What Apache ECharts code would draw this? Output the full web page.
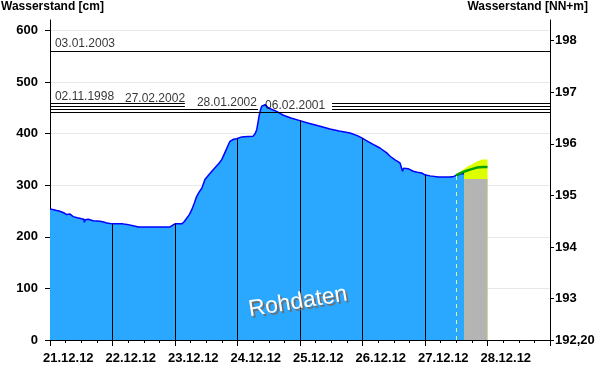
<!DOCTYPE html>
<html><head><meta charset="utf-8">
<script src="https://cdn.jsdelivr.net/npm/echarts@6/dist/echarts.min.js"></script>
<style>html,body{margin:0;padding:0;background:#fff}#c{width:600px;height:384px}</style>
</head><body><div id="c"></div>
<script>
// time axis: hours since 21.12.2012 00:00
const levelHours = [0,1,2.6,3.5,4.5,5.5,6.4,7.7,8.9,10.5,12.2,13.0,13.2,13.5,14.7,16.6,19.2,21.0,21.8,22.4,24,28,29.5,31.5,33.9,40,46.1,47,48,50.6,51.5,52.5,53.5,54.4,55.4,56.3,57.3,58.3,59.5,61,63,65,66,67.5,69.1,70.5,71.7,72,73.6,76,78,78.8,79.4,79.9,80.4,80.9,81.3,82,82.6,83.2,83.8,85.5,87,89.6,92.5,96,98.6,103,107.5,111,115.2,118,119.7,120,122,124.1,126.7,129.3,130.6,132.5,134.4,135.1,135.4,135.8,136.3,137.5,139.5,141,142.7,144,145.9,149.1,153.6,155,156,158.1,159];
const levelCm =    [254,253,251,250,248,246,243,244,239,237,235,234,228,233,234,231,230,228,226.5,224,225,225,224,222,219,219,219,222,225,225,229,236,243,252,265,278,287,294,311,320,332,343,350,367,385,389,390,390.5,393.5,394.5,395,400,408,422,437,447,453,455.5,456,453,450,446,443,435.5,430,425,421,415,409,405,401,396,391.5,391,385,379,372,362.5,356,349,343,340,327,333,335,332,327,325,323.5,320,318,316,316,317,319,322,322];

const forecastHours = [155.9,157,158.7,160,161.3,162.6,163.9,165,166.5,168];
const forecastCm =    [319,322,325.6,328,330,332,334,334.5,335,335];
const forecastUpperHours = [156.3,156.8,158,159.4,160.6,161.9,163,163.9,165,165.8,168];
const forecastUpperCm =    [319,323,328,333,337,340,343,346,348,349.5,349.5];

const greyHours = [159,168];
const greyCm = [312,312];

const nowHour = 156;
const dayLineHours = [24,48,72,96,120,144];

const dayTickLabels = ['21.12.12','22.12.12','23.12.12','24.12.12','25.12.12','26.12.12','27.12.12','28.12.12'];
const leftTickValues = [0,100,200,300,400,500,600];
const rightTickValues = [192.2,193,194,195,196,197,198];
const rightTickLabels = ['192,20','193','194','195','196','197','198'];

// historic flood marks
const floodLevelsCm = [559, 458, 453.5, 447, 440.5];
const floodDates = ['03.01.2003','02.11.1998','27.02.2002','28.01.2002','06.02.2001'];

// layout of flood mark segments (hours) and label anchors (hours, cm)
const floodSegments = [
  [[0,192]],
  [[0,51.8],[108.3,192]],
  [[0,51.8],[108.3,192]],
  [[0,79.9],[108.3,192]],
  [[0,192]]
];
const floodLabelAnchor = [[1.9,562],[1.9,460.5],[28.8,456.6],[56.4,448.2],[82.6,442.4]];

const FONT = '"Liberation Sans", Arial, sans-serif';

function levelAt(h){
  for (let i=0;i<levelHours.length;i++) if (Math.abs(levelHours[i]-h)<1e-6) return levelCm[i];
  return 0;
}
const zip = (a,b)=>a.map((v,i)=>[v,b[i]]);

const floodLineData = [];
floodSegments.forEach((segs,i)=>{
  segs.forEach(s=>floodLineData.push([{coord:[s[0],floodLevelsCm[i]]},{coord:[s[1],floodLevelsCm[i]]}]));
});

const chart = echarts.init(document.getElementById('c'), null, {renderer:'canvas'});
chart.setOption({
  animation:false,
  backgroundColor:'#fff',
  grid:{left:50,right:50,top:20,bottom:44,containLabel:false},
  xAxis:{
    type:'value',min:0,max:192,interval:24,
    axisLine:{show:true,lineStyle:{color:'#000',width:1}},
    axisTick:{show:true,length:6,lineStyle:{color:'#000'}},
    minorTick:{show:true,splitNumber:4,length:3,lineStyle:{color:'#000'}},
    splitLine:{show:false},
    axisLabel:{
      color:'#000',fontWeight:'bold',fontSize:13,fontFamily:FONT,align:'left',margin:12,
      padding:[0,0,0,-7],
      formatter:v=>dayTickLabels[Math.round(v/24)]||''
    }
  },
  yAxis:[{
    type:'value',min:0,max:620,interval:100,position:'left',
    axisLine:{show:true,lineStyle:{color:'#000'}},
    axisTick:{show:true,length:5,lineStyle:{color:'#000'},customValues:leftTickValues},
    axisLabel:{color:'#000',fontWeight:'bold',fontSize:13,fontFamily:FONT,margin:12,customValues:leftTickValues},
    splitLine:{show:true,lineStyle:{color:'#e8e8e8',width:1}}
  },{
    type:'value',min:192.2,max:198.4,position:'right',
    axisLine:{show:true,lineStyle:{color:'#000'}},
    axisTick:{show:true,length:4,lineStyle:{color:'#000'},customValues:rightTickValues},
    axisLabel:{color:'#000',fontWeight:'bold',fontSize:13,fontFamily:FONT,margin:5,customValues:rightTickValues,
      formatter:v=>{const i=rightTickValues.findIndex(t=>Math.abs(t-v)<1e-6);return i>=0?rightTickLabels[i]:'';}},
    splitLine:{show:false}
  }],
  graphic:[
    {type:'text',left:1,top:1,style:{text:'Wasserstand [cm]',font:'bold 12px '+FONT,fill:'#000'}},
    {type:'text',right:12,top:1,style:{text:'Wasserstand [NN+m]',font:'bold 12px '+FONT,fill:'#000'}},
    {type:'text',x:300,y:304,rotation:0.16,z:99,
     style:{text:'Rohdaten',font:'23px '+FONT,fill:'#6e6e6e',align:'center',verticalAlign:'middle'}},
    {type:'text',x:298,y:302,rotation:0.16,z:100,
     style:{text:'Rohdaten',font:'23px '+FONT,fill:'#fff',align:'center',verticalAlign:'middle'}}
  ],
  series:[
    {name:'upper',type:'line',data:zip(forecastUpperHours,forecastUpperCm),symbol:'none',z:1,
      lineStyle:{width:0},areaStyle:{color:'#ddff00',opacity:1},silent:true},
    {name:'level',type:'line',data:zip(levelHours,levelCm),symbol:'none',z:2,
      lineStyle:{color:'#0000ff',width:1.5},areaStyle:{color:'#2aa8ff',opacity:1},
      markLine:{silent:true,symbol:['none','none'],label:{show:false},animation:false,
        data:[
          ...dayLineHours.map(h=>[{coord:[h,0],lineStyle:{color:'#000',width:1,type:'solid'}},{coord:[h,levelAt(h)]}]),
          [{coord:[nowHour,0],lineStyle:{color:'#e4ff9a',width:1,type:[4,4]}},{coord:[nowHour,levelAt(nowHour)]}]
        ]}
    },
    {name:'grey',type:'line',data:zip(greyHours,greyCm),symbol:'none',z:3,
      lineStyle:{width:0},areaStyle:{color:'#b4b4b4',opacity:1},silent:true},
    {name:'forecast',type:'line',data:zip(forecastHours,forecastCm),symbol:'none',z:4,
      lineStyle:{color:'#00a000',width:2.5},silent:true},
    {name:'flood',type:'line',data:[],z:5,
      markLine:{silent:true,symbol:['none','none'],label:{show:false},animation:false,
        lineStyle:{color:'#000',width:1,type:'solid'},data:floodLineData}},
    {name:'floodLabels',type:'scatter',symbolSize:0,z:6,silent:true,
      data:floodLabelAnchor.map((a,i)=>[a[0],a[1],floodDates[i]]),
      label:{show:true,position:[0,0],align:'left',verticalAlign:'bottom',
        formatter:p=>p.data[2],color:'#000',fontSize:12,fontFamily:FONT}}
  ]
});
</script></body></html>
